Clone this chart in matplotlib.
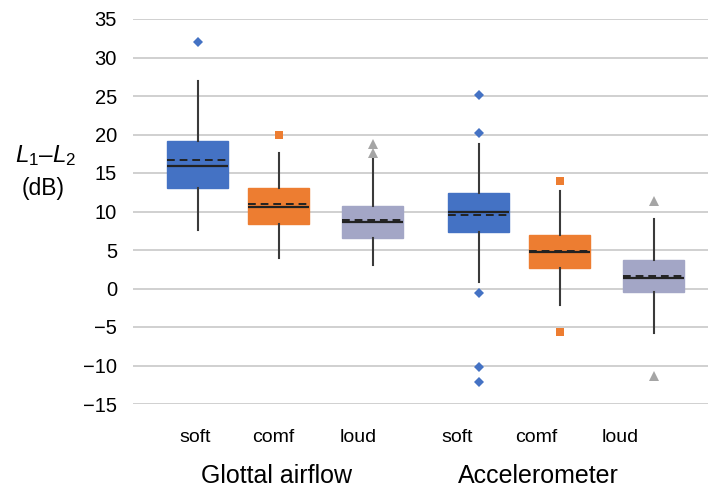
import matplotlib
matplotlib.use("Agg")
import matplotlib.pyplot as plt

plt.rcParams['font.family'] = ['Liberation Sans', 'DejaVu Sans']
plt.rcParams['mathtext.fontset'] = 'custom'
plt.rcParams['mathtext.rm'] = 'Liberation Sans'
plt.rcParams['mathtext.it'] = 'Liberation Sans:italic'

# ---- data ----
groups = ["Glottal airflow", "Accelerometer"]
conditions = ["soft", "comf", "loud", "soft", "comf", "loud"]
q1 = [13.0, 8.4, 6.6, 7.4, 2.7, -0.5]
median = [15.9, 10.6, 8.6, 9.9, 4.8, 1.4]
q3 = [19.1, 13.0, 10.7, 12.4, 6.9, 3.7]
mean = [16.7, 11.0, 8.9, 9.5, 4.9, 1.6]
whislo = [7.6, 3.9, 3.0, 0.8, -2.1, -5.8]
whishi = [26.9, 17.6, 16.9, 18.8, 12.6, 9.0]
outliers = [[32.0], [19.9], [18.8, 17.6],
            [25.1, 20.2, -0.6, -10.2, -12.1], [13.9, -5.7], [11.4, -11.4]]
yticks = [35, 30, 25, 20, 15, 10, 5, 0, -5, -10, -15]

# ---- style / layout ----
colors = ["#4472C4", "#ED7D31", "#A3A6C6", "#4472C4", "#ED7D31", "#A3A6C6"]
flier_colors = ["#4472C4", "#ED7D31", "#A5A5A5", "#4472C4", "#ED7D31", "#A5A5A5"]
flier_markers = ["D", "s", "^", "D", "s", "^"]
flier_sizes = {"D": 5, "s": 6, "^": 6.5}
box_pos = [0.80, 1.80, 2.96, 4.27, 5.27, 6.43]
label_pos = [0.77, 1.73, 2.78, 4.00, 4.98, 6.02]
group_pos = [1.77, 5.00]
width = 0.75

fig = plt.figure(figsize=(7.08, 4.91), dpi=100)
ax = fig.add_axes([133/708, 87/491, 575/708, 385/491])

stats = []
for i in range(len(conditions)):
    stats.append(dict(q1=q1[i], med=median[i], q3=q3[i], mean=mean[i],
                      whislo=whislo[i], whishi=whishi[i], fliers=[]))

for i, s in enumerate(stats):
    ax.bxp([s], positions=[box_pos[i]], widths=width, patch_artist=True,
           showmeans=True, meanline=True, showcaps=False, showfliers=False,
           boxprops=dict(facecolor=colors[i], edgecolor=colors[i], linewidth=1),
           whiskerprops=dict(color="#3a3a3a", linewidth=1.5),
           medianprops=dict(color="#222222", linewidth=1.6),
           meanprops=dict(color="#222222", linewidth=1.4, linestyle=(0, (4, 2.5))),
           zorder=3)
    ax.plot([box_pos[i]] * len(outliers[i]), outliers[i], linestyle="none",
            marker=flier_markers[i], color=flier_colors[i],
            markersize=flier_sizes[flier_markers[i]],
            markeredgewidth=0, zorder=4)

ax.set_ylim(-15, 35)
ax.set_xlim(0, 575/81)
ax.set_yticks(yticks)
ax.set_yticklabels([str(t).replace("-", "\u2212") for t in yticks], fontsize=14.5)
ax.yaxis.grid(True, color="#D0D0D0", linewidth=1.4)
ax.set_axisbelow(True)
ax.tick_params(axis="y", length=0, pad=11.5)
ax.set_xticks([])
for sp in ax.spines.values():
    sp.set_visible(False)

for x, lab in zip(label_pos, conditions):
    ax.text(x, -15 - 33/7.7, lab, ha="center", va="center", fontsize=14,
            clip_on=False)
for x, g in zip(group_pos, groups):
    ax.text(x, -15 - 72/7.7, g, ha="center", va="center", fontsize=18,
            clip_on=False)

fig.text(46/708, 1 - 156/491, r"$L_1$–$L_2$", ha="center", va="center",
         fontsize=17.5)
fig.text(43/708, 1 - 189/491, "(dB)", ha="center", va="center", fontsize=16.5)

fig.savefig("out.png", dpi=100)
